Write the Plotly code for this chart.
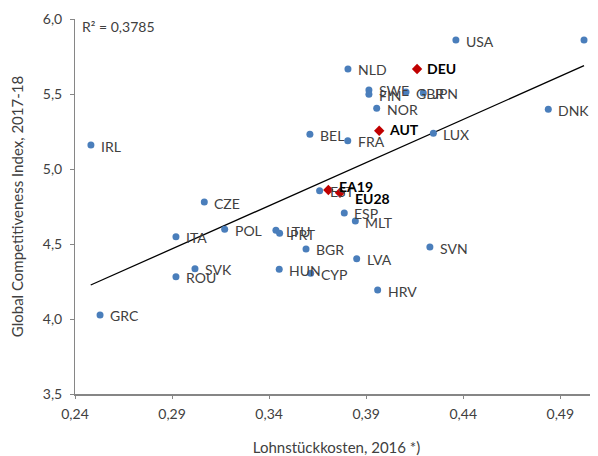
import numpy as np
import plotly.graph_objects as go

# Country data (unit labour cost 2016, GCI 2017-18)
countries = ["USA", "CHE", "NLD", "SWE", "FIN", "GBR", "JPN", "NOR", "DNK", "LUX",
             "BEL", "FRA", "IRL", "CZE", "ITA", "POL", "LTU", "PRT", "EST", "ESP",
             "MLT", "BGR", "LVA", "SVN", "HUN", "CYP", "SVK", "ROU", "HRV", "GRC"]
ulc = [0.4362, 0.5022, 0.3806, 0.3914, 0.3914, 0.4105, 0.4194, 0.3954, 0.4838, 0.4246,
       0.3610, 0.3805, 0.2482, 0.3066, 0.2920, 0.3171, 0.3435, 0.3454, 0.3660, 0.3787,
       0.3844, 0.3590, 0.3851, 0.4228, 0.3452, 0.3614, 0.3018, 0.2920, 0.3959, 0.2529]
gci = [5.86, 5.86, 5.667, 5.527, 5.498, 5.513, 5.507, 5.405, 5.398, 5.238,
       5.231, 5.189, 5.16, 4.78, 4.549, 4.598, 4.591, 4.571, 4.855, 4.707,
       4.653, 4.467, 4.402, 4.48, 4.331, 4.305, 4.335, 4.282, 4.193, 4.027]

# Highlighted entries
hl_names = ["DEU", "AUT", "EA19", "EU28"]
hl_ulc = [0.4162, 0.3967, 0.3705, 0.3765]
hl_gci = [5.667, 5.255, 4.86, 4.842]

# Trendline (Excel linear trend)
trend_x = [0.2481, 0.5022]
trend_slope = 5.754
trend_intercept = 2.799
r2_text = "R² = 0,3785"

x_ticks = [0.24, 0.29, 0.34, 0.39, 0.44, 0.49]
y_ticks = [3.5, 4.0, 4.5, 5.0, 5.5, 6.0]

FONT = "Lato"
TXT = "#404040"
BLUE = "#4A7EBB"
RED = "#C00000"

fig = go.Figure()

tx = np.array(trend_x)
fig.add_trace(go.Scatter(x=tx, y=trend_slope * tx + trend_intercept, mode="lines",
                         line=dict(color="black", width=1.3), hoverinfo="skip",
                         showlegend=False))

fig.add_trace(go.Scatter(x=ulc, y=gci, mode="markers",
                         marker=dict(color=BLUE, size=7), showlegend=False))
fig.add_trace(go.Scatter(x=hl_ulc, y=hl_gci, mode="markers",
                         marker=dict(color=RED, size=8, symbol="diamond"),
                         showlegend=False))

annotations = []
for n, x, y in zip(countries, ulc, gci):
    annotations.append(dict(x=x, y=y, text=n, showarrow=False, xanchor="left",
                            yanchor="middle", xshift=8, yshift=-1,
                            font=dict(family=FONT, size=14, color=TXT)))
hl_shift = {"DEU": (8, 0), "AUT": (8, 1), "EA19": (9, 4), "EU28": (13, -6)}
for n, x, y in zip(hl_names, hl_ulc, hl_gci):
    dx, dy = hl_shift[n]
    annotations.append(dict(x=x, y=y, text="<b>" + n + "</b>", showarrow=False,
                            xanchor="left", yanchor="middle", xshift=dx, yshift=dy,
                            font=dict(family=FONT, size=14, color="black")))
annotations.append(dict(x=0.0, y=1.0, xref="paper", yref="paper", text=r2_text,
                        showarrow=False, xanchor="left", yanchor="top",
                        xshift=5, yshift=3,
                        font=dict(family=FONT, size=14, color=TXT)))

# the page body has an 8px margin, so the figure is sized to the visible area
fig.update_layout(
    width=590, height=448,
    margin=dict(l=67, r=0, t=11, b=62),
    paper_bgcolor="white", plot_bgcolor="white",
    separators=", ",
    font=dict(family=FONT, size=14, color=TXT),
    annotations=annotations,
    xaxis=dict(range=[0.24, 0.5094], tickvals=x_ticks, tickformat=".2f",
               automargin=False, ticklabelstandoff=3,
               showgrid=False, zeroline=False, showline=True,
               linecolor="#868686", linewidth=2, ticks="outside", ticklen=3,
               tickcolor="#868686", tickfont=dict(family=FONT, size=14, color=TXT),
               title=dict(text="Lohnstückkosten, 2016 *)", standoff=24,
                          font=dict(family=FONT, size=15, color=TXT))),
    yaxis=dict(range=[3.5, 6.0], tickvals=y_ticks, tickformat=".1f",
               automargin=False, ticklabelstandoff=5,
               showgrid=False, zeroline=False, showline=True,
               linecolor="#868686", linewidth=1, ticks="outside", ticklen=4,
               tickcolor="#868686", tickfont=dict(family=FONT, size=14, color=TXT),
               title=dict(text="Global Competitiveness Index, 2017-18", standoff=20,
                          font=dict(family=FONT, size=15, color=TXT))),
)

fig.write_html("out.html")
